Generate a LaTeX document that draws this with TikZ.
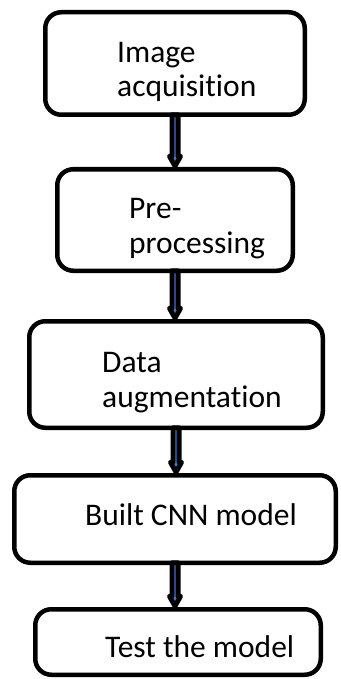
\documentclass[tikz,border=0pt]{standalone}
\usepackage{fontspec}
\setmainfont[RawFeature={-liga;-clig}]{Carlito}
\usetikzlibrary{calc}
\definecolor{arrblue}{RGB}{68,114,196}
\tikzset{
  stepbox/.style={draw=black, line width=4.5pt, rounded corners=16pt, fill=white, inner sep=0pt, outer sep=0pt},
  label/.style={inner sep=0pt, anchor=base west, align=left, font=\fontsize{31.5}{34.5}\selectfont},
  flowarr/.style={fill=arrblue, draw=black, line width=4.8pt, line join=round}
}
\newcommand\flowarrow[2]{%
  \filldraw[flowarr] let \p1=(#1.south), \p2=(#2.north) in
    (\x1-3.1pt,\y1) -- (\x1-3.1pt,\y2+13pt) -- (\x1-5.6pt,\y2+13pt) -- (\x1,\y2+3pt)
    -- (\x1+5.6pt,\y2+13pt) -- (\x1+3.1pt,\y2+13pt) -- (\x1+3.1pt,\y1) -- cycle;}
\begin{document}
\begin{tikzpicture}[x=1pt,y=-1pt]
\useasboundingbox (0,0) rectangle (340,679);
\node[stepbox, minimum width=259.5pt, minimum height=102.5pt] (b1) at (175,63.5) {};
\node[stepbox, minimum width=235.5pt, minimum height=101.5pt] (b2) at (175,220) {};
\node[stepbox, minimum width=293.5pt, minimum height=106.5pt] (b3) at (176,374.5) {};
\node[stepbox, minimum width=321.5pt, minimum height=87.5pt] (b4) at (175,519) {};
\node[stepbox, minimum width=285.5pt, minimum height=65.5pt] (b5) at (178,642) {};
\node[label] (t1) at (117,97) {Image\\acquisition};
\node[label] (t2) at (129,253) {Pre-\\processing};
\node[label] (t3) at (102,407) {Data\\augmentation};
\node[label] (t4) at (85,525) {Built CNN model};
\node[label] (t5) at (105,657) {Test the model};
\flowarrow{b1}{b2}
\flowarrow{b2}{b3}
\flowarrow{b3}{b4}
\flowarrow{b4}{b5}
\end{tikzpicture}
\end{document}
